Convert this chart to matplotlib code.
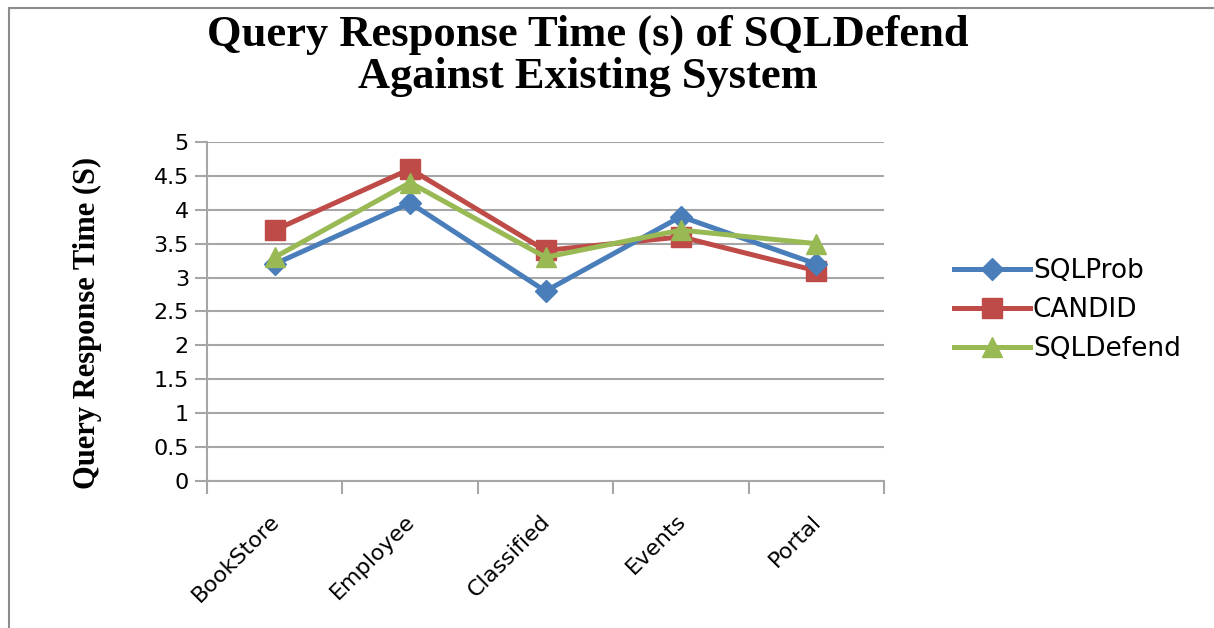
import matplotlib.pyplot as plt
from matplotlib.patches import Rectangle

sites = ['BookStore', 'Employee', 'Classified', 'Events', 'Portal']
sqlprob = [3.2, 4.1, 2.8, 3.9, 3.2]
candid = [3.7, 4.6, 3.4, 3.6, 3.1]
sqldefend = [3.3, 4.4, 3.3, 3.7, 3.5]
yticks = [0, 0.5, 1, 1.5, 2, 2.5, 3, 3.5, 4, 4.5, 5]
title_lines = ['Query Response Time (s) of SQLDefend', 'Against Existing System']

fig = plt.figure(figsize=(12.14, 6.28), dpi=100)
ax = fig.add_axes([0.1705, 0.234, 0.5577, 0.540])

# outer frame of the chart (cut at right/bottom)
fig.patches.append(Rectangle((9/1214, -0.1), 1.2, (628-8)/628 + 0.1, transform=fig.transFigure,
                             fill=False, edgecolor='#8c8c8c', linewidth=1.5))

x = list(range(len(sites)))
ax.plot(x, sqlprob, color='#4a7ebb', lw=3.6, marker='D', ms=11, label='SQLProb', zorder=3)
ax.plot(x, candid, color='#be4b48', lw=3.6, marker='s', ms=15, label='CANDID', zorder=2)
ax.plot(x, sqldefend, color='#98b954', lw=3.6, marker='^', ms=15, label='SQLDefend', zorder=4)

ax.set_xlim(-0.5, 4.5)
ax.set_ylim(0, 5)
ax.set_yticks(yticks)
ax.set_yticklabels([f'{v:g}' for v in yticks], fontname='DejaVu Sans', fontsize=16)
ax.yaxis.grid(True, color='#a6a6a6', lw=1.5)
ax.set_axisbelow(True)
ax.tick_params(axis='y', length=9, width=1.5, color='#a6a6a6', pad=4)

ax.set_xticks([i - 0.5 for i in range(6)])
ax.set_xticklabels([])
ax.tick_params(axis='x', length=9, width=1.5, color='#a6a6a6')
for i, s in enumerate(sites):
    ax.text(i - 0.04, -0.44, s, rotation=45, ha='right', va='top', rotation_mode='anchor',
            fontname='DejaVu Sans', fontsize=16)

for side in ['top', 'right']:
    ax.spines[side].set_visible(False)
for side in ['left', 'bottom']:
    ax.spines[side].set_color('#a6a6a6')
    ax.spines[side].set_linewidth(1.5)

ax.set_ylabel('Query Response Time (S)', fontname='Liberation Serif', fontweight='bold',
              fontsize=22)
ax.yaxis.set_label_coords(-0.155, 0.466)

fig.text(0.484, 1 - 46/628, title_lines[0], ha='center', va='baseline',
         fontname='Liberation Serif', fontweight='bold', fontsize=32)
fig.text(0.484, 1 - 88/628, title_lines[1], ha='center', va='baseline',
         fontname='Liberation Serif', fontweight='bold', fontsize=32)

ax.legend(loc='center left', bbox_to_anchor=(1.068, 0.504), frameon=False,
          prop={'family': 'DejaVu Sans', 'size': 19}, handlelength=2.9, labelspacing=0.5,
          handletextpad=0.1)

fig.savefig('out.png', dpi=100)
